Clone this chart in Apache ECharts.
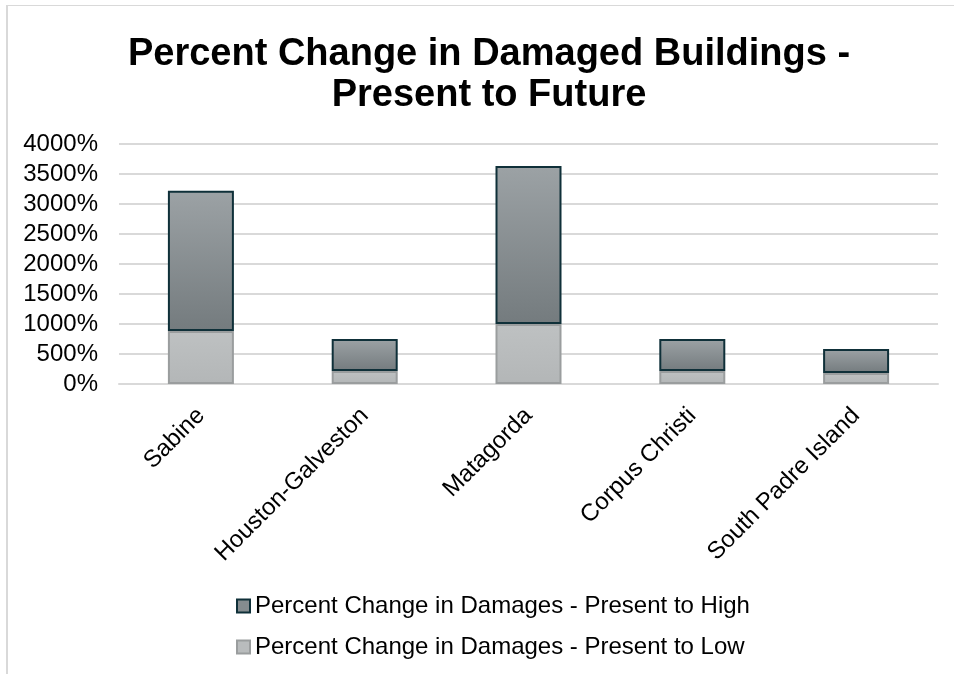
<!DOCTYPE html>
<html>
<head>
<meta charset="utf-8">
<title>Percent Change in Damaged Buildings</title>
<script src="https://cdn.jsdelivr.net/npm/echarts@6/dist/echarts.min.js"></script>
<style>
  html, body { margin: 0; padding: 0; background: #fff; }
  #chart { width: 954px; height: 674px; }
</style>
</head>
<body>
<div id="chart"></div>
<script>
// Study areas along the Texas coast
var categories = ['Sabine', 'Houston-Galveston', 'Matagorda', 'Corpus Christi', 'South Padre Island'];

// Percent change in damaged buildings, present to low scenario (lower stack)
var lowValues = [885, 215, 1000, 215, 185];

// Percent change in damaged buildings, present to high scenario (upper stack)
var highValues = [2335, 535, 2635, 535, 400];

// Value axis ticks
var yMin = 0, yMax = 4000, yStep = 500;

var seriesNames = [
  'Percent Change in Damages - Present to High',
  'Percent Change in Damages - Present to Low'
];

var FONT = 'Liberation Sans, Arial, sans-serif';

var highFill = new echarts.graphic.LinearGradient(0, 0, 0, 1, [
  { offset: 0, color: '#9ca2a5' },
  { offset: 1, color: '#747b7e' }
]);
var lowFill = new echarts.graphic.LinearGradient(0, 0, 0, 1, [
  { offset: 0, color: '#bec1c2' },
  { offset: 1, color: '#b3b6b7' }
]);

var chart = echarts.init(document.getElementById('chart'), null, { renderer: 'canvas' });

chart.setOption({
  backgroundColor: '#ffffff',
  animation: false,
  textStyle: { fontFamily: FONT },
  title: {
    text: 'Percent Change in Damaged Buildings -\nPresent to Future',
    left: 484,
    textAlign: 'center',
    top: 29,
    textStyle: {
      fontFamily: FONT,
      fontSize: 38,
      fontWeight: 'bold',
      color: '#000',
      lineHeight: 41
    }
  },
  graphic: [
    { type: 'rect', shape: { x: 6, y: 5, width: 948, height: 1 }, style: { fill: '#d9d9d9' }, silent: true },
    { type: 'rect', shape: { x: 6, y: 5, width: 2, height: 669 }, style: { fill: '#d9d9d9' }, silent: true }
  ],
  grid: {
    left: 119,
    right: 16,
    top: 144,
    bottom: 290,
    containLabel: false
  },
  legend: {
    orient: 'vertical',
    left: 231,
    top: 589,
    itemWidth: 13,
    itemHeight: 13,
    itemGap: 17,
    icon: 'rect',
    textStyle: { fontFamily: FONT, fontSize: 24, color: '#000' },
    data: [
      { name: seriesNames[0], itemStyle: { color: '#858c8f', borderColor: '#0f3039', borderWidth: 2 } },
      { name: seriesNames[1], itemStyle: { color: '#b9bcbd', borderColor: '#9a9d9e', borderWidth: 2 } }
    ]
  },
  xAxis: {
    type: 'category',
    data: categories,
    axisLine: { show: true, lineStyle: { color: '#d9d9d9', width: 2 } },
    axisTick: { show: false },
    axisLabel: {
      rotate: 45,
      margin: 28,
      interval: 0,
      fontFamily: FONT,
      fontSize: 24,
      color: '#000'
    }
  },
  yAxis: {
    type: 'value',
    min: yMin,
    max: yMax,
    interval: yStep,
    axisLine: { show: false },
    axisTick: { show: false },
    splitLine: { lineStyle: { color: '#d9d9d9', width: 2 } },
    axisLabel: {
      margin: 21,
      fontFamily: FONT,
      fontSize: 24,
      color: '#000',
      formatter: function (v) { return v + '%'; }
    }
  },
  series: [
    {
      name: seriesNames[1],
      type: 'bar',
      stack: 'change',
      barWidth: 66,
      data: lowValues,
      itemStyle: { color: lowFill, borderColor: '#9a9d9e', borderWidth: 2 },
      z: 2
    },
    {
      name: seriesNames[0],
      type: 'bar',
      stack: 'change',
      barWidth: 66,
      data: highValues,
      itemStyle: { color: highFill, borderColor: '#0f3039', borderWidth: 2 },
      z: 3
    }
  ]
});
</script>
</body>
</html>
